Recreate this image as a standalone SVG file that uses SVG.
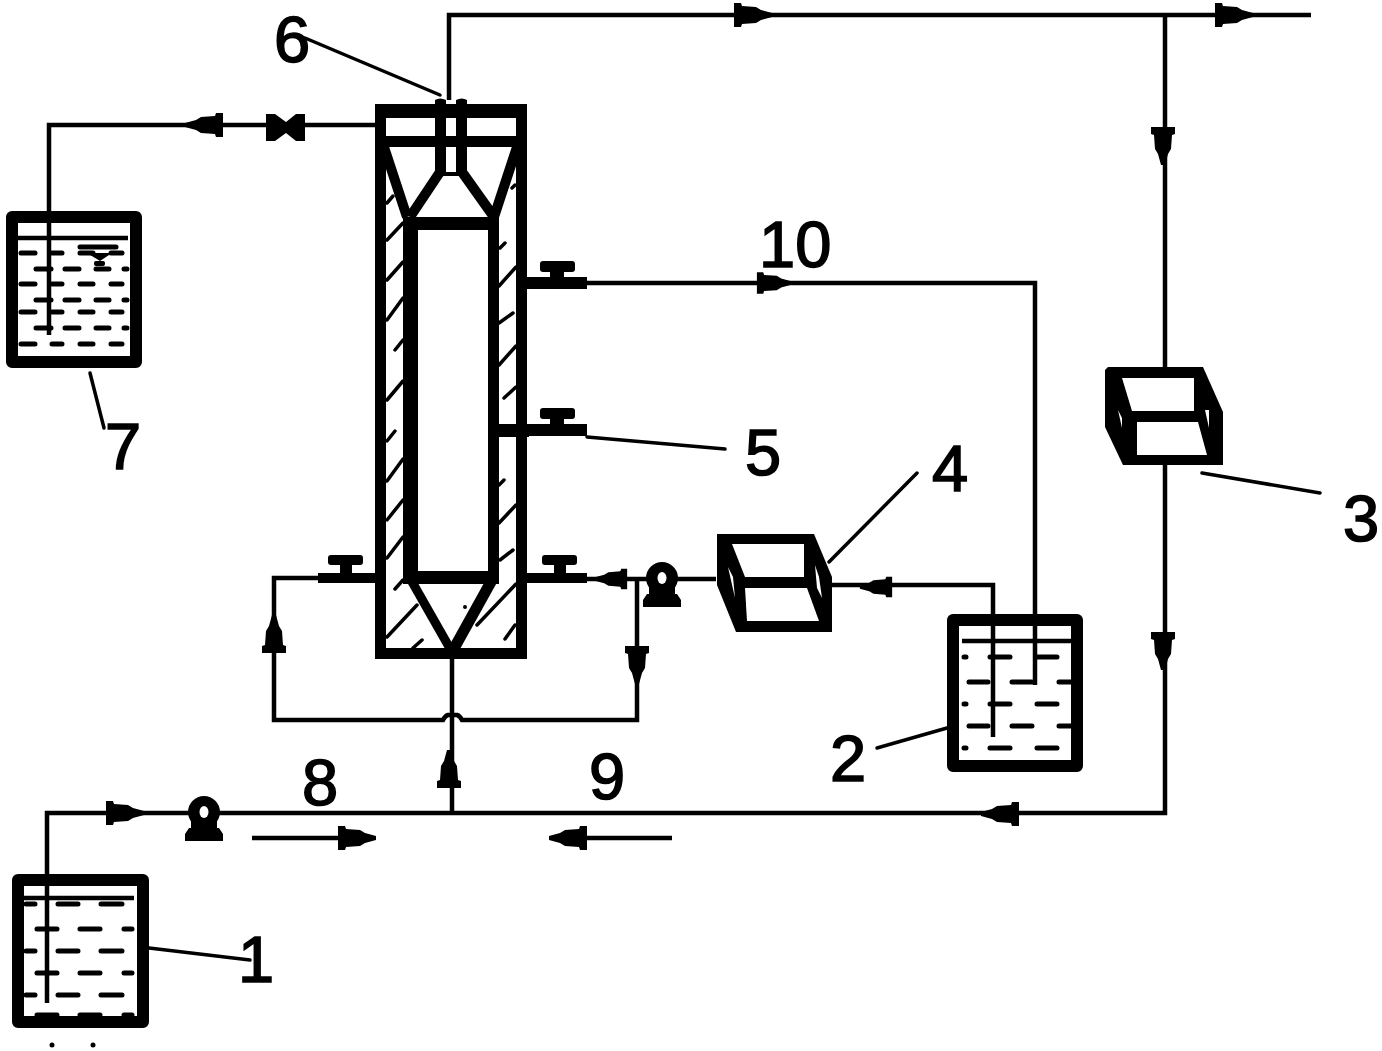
<svg xmlns="http://www.w3.org/2000/svg" width="1382" height="1051" viewBox="0 0 1382 1051">
<style>
.p{fill:none;stroke:#000;stroke-width:4.500}
.t{fill:none;stroke:#000;stroke-width:12;stroke-linejoin:round}
.c{fill:none;stroke:#000;stroke-width:11}
.f{fill:#000}
.w{fill:#fff}
.d{fill:none;stroke:#000;stroke-width:5;stroke-linecap:round}
.h{fill:none;stroke:#000;stroke-width:3.500;stroke-linecap:round}
.l{font-family:"Liberation Sans",Arial,sans-serif;font-size:65px;fill:#000;stroke:#000;stroke-width:1.600}
</style>
<defs>
<path id="a" d="M-19,-12L-12,-12L-11,-9L3,-8L8,-5L19,-2V2L8,5L3,8L-11,9L-12,12L-19,12Z"/>
<g id="pump"><circle cx="0" cy="0" r="16"/><rect x="-13" y="0" width="26" height="18"/><path d="M-15,16H15L19,22V29H-19V22Z"/><ellipse cx="0" cy="0" rx="4.500" ry="6" fill="#fff"/></g>
<g id="valve"><rect x="-30" y="-6" width="60" height="12"/><rect x="-7" y="-16" width="14" height="12"/><rect x="-17" y="-22" width="35" height="11" rx="3"/></g>
</defs>

<g id="connectors">
<path class="p" d="M449,100V15H1311"/>
<path class="p" d="M1165,15V813H47V1003"/>
<path class="p" d="M452,659V813"/>
<path class="p" d="M375,125H49V335"/>
<path class="p" d="M587,283H1035V685"/>
<path class="p" d="M587,579H716"/>
<path class="p" d="M832,585H993V737"/>
<path class="p" d="M318,578H274V720H443Q445,716 448,715H457Q460,716 462,720H637V579"/>
<path class="p" d="M252,838H345"/>
<path class="p" d="M580,838H672"/>
<use href="#a" transform="translate(753,15)"/>
<use href="#a" transform="translate(1234,15)"/>
<use href="#a" transform="translate(1163,146) rotate(90)"/>
<use href="#a" transform="translate(1163,651) rotate(90)"/>
<use href="#a" transform="translate(204,125) rotate(180)"/>
<use href="#a" transform="translate(774,283) scale(.9)"/>
<use href="#a" transform="translate(611,579) rotate(180) scale(.85)"/>
<use href="#a" transform="translate(876,587) rotate(180) scale(.85)"/>
<use href="#a" transform="translate(274,634) rotate(-90)"/>
<use href="#a" transform="translate(637,665) rotate(90)"/>
<use href="#a" transform="translate(449,769) rotate(-90)"/>
<use href="#a" transform="translate(1000,814) rotate(180)"/>
<use href="#a" transform="translate(125,813)"/>
<use href="#a" transform="translate(357,838)"/>
<use href="#a" transform="translate(568,838) rotate(180)"/>
</g>

<g id="leaders">
<path class="h" d="M305,38L440,95"/>
<path class="h" d="M90,373L104,428"/>
<path class="h" d="M149,948L250,960"/>
<path class="h" d="M947,728L877,748"/>
<path class="h" d="M1202,473L1320,493"/>
<path class="h" d="M829,562L917,473"/>
<path class="h" d="M587,437L725,449"/>
</g>

<g id="reactor">
<path class="f" fill-rule="evenodd" d="M375,104H527V659H375Z M386,118V648H516V118Z"/>
<rect class="f" x="380" y="136" width="142" height="11"/>
<path class="f" d="M435,100Q440,97 446,100V172H456V100Q462,97 467,100V176L460,176H442L435,176Z"/>
<path class="c" style="stroke-width:10" d="M384,147L407,217M440,172L410,217M462,172L494,217M517,147L494,217"/>
<path class="f" fill-rule="evenodd" d="M403,217H499V584H403Z M418,230V571H488V230Z"/>
<path class="c" style="stroke-width:9" d="M411,580L452,652"/>
<path class="c" d="M492,580L452,652"/>
<path class="h" d="M387,203L393,196M387,240L403,223M387,280L403,262M387,320L403,298M395,350L403,340M387,400L403,381M387,441L395,431M387,481L403,459M387,520L403,500M387,558L403,537M395,589L403,580M387,637L417,605M413,648L422,640"/>
<path class="h" d="M512,188L515,185M500,248L505,243M499,286L516,267M499,323L513,313M499,365L516,346M504,398L516,387M499,485L504,480M499,523L516,505M500,560L513,550M477,625L516,584M505,639L515,625"/>
<circle class="f" cx="465" cy="607" r="2"/>
</g>

<g id="valve-top"><path class="f" d="M266,114L275,114L286,122L296,114L305,114L305,141L296,141L286,133L275,141L266,141Z"/></g>
<use id="valve-10" href="#valve" transform="translate(557,283)"/>
<use id="valve-5" href="#valve" transform="translate(557,430)"/>
<rect class="f" x="499" y="424" width="30" height="13"/>
<g id="valve-left"><rect class="f" x="318" y="573" width="57" height="10"/><rect class="f" x="340" y="562" width="12" height="12"/><rect class="f" x="328" y="555" width="35" height="10" rx="3"/></g>
<g id="valve-right"><rect class="f" x="527" y="573" width="60" height="10"/><rect class="f" x="554" y="562" width="12" height="12"/><rect class="f" x="542" y="555" width="35" height="10" rx="3"/></g>
<use id="pump-1" href="#pump" transform="translate(204,812)"/>
<use id="pump-2" href="#pump" transform="translate(662,578)"/>

<g id="box-4">
<path class="f" d="M717,534H814L832,577V632H736L717,585Z"/>
<path class="w" d="M732,544H804V577H745Z"/>
<path class="w" d="M745,588H807L819,621H747Z"/>
<path class="w" d="M728,567L733,577L735,598Z"/>
<path class="w" d="M815,565L819,577L822,598L817,588Z"/>
</g>
<g id="box-3">
<path class="f" d="M1105,370L1108,367H1203L1223,412V465H1123L1105,427Z"/>
<path class="w" d="M1122,378H1194V411H1132Z"/>
<path class="w" d="M1137,422H1198L1207,455H1137Z"/>
<path class="w" d="M1118,410L1122,418V428Z"/>
<path class="w" d="M1205,410H1209V428Z"/>
</g>

<g id="tank-1">
<rect class="t" x="18" y="880" width="125" height="142"/>
<path class="p" d="M24,898H134"/>
<path class="d" d="M26,904H35M58,904H78M101,904H122M37,929H57M80,929H100M124,929H132M26,951H35M58,951H78M101,951H122M37,973H57M80,973H100M124,973H132M26,995H35M58,995H78M101,995H122M37,1015H57M80,1015H100M124,1015H132"/>
<circle class="f" cx="52" cy="1045" r="2.500"/><circle class="f" cx="93" cy="1045" r="2.500"/>
</g>

<g id="tank-7">
<rect class="t" x="12" y="217" width="124" height="145"/>
<path class="p" d="M17,238H128"/>
<path class="d" d="M21,253H35M52,253H62M80,253H93M111,253H122M36,269H51M65,269H79M96,269H109M124,269H127M21,284H35M52,284H62M80,284H93M111,284H122M36,300H51M65,300H79M96,300H109M124,300H127M21,312H35M52,312H62M80,312H93M111,312H122M36,328H51M65,328H79M96,328H109M124,328H127M21,344H35M52,344H62M80,344H93M111,344H122"/>
<path class="d" d="M80,247H116"/>
<path class="f" d="M87,253H112L100,261Z"/>
<rect class="f" x="94" y="261" width="11" height="5" rx="2"/>
</g>

<g id="tank-2">
<rect class="t" x="953" y="620" width="124" height="146"/>
<path class="p" d="M962,641H1072"/>
<path class="d" d="M964,657H966M990,657H1010M1037,657H1057M969,682H988M1012,682H1032M1059,682H1071M964,704H966M990,704H1010M1037,704H1057M969,726H988M1012,726H1032M1059,726H1071M964,748H966M990,748H1010M1037,748H1057"/>
</g>

<g id="labels">
<text class="l" x="274" y="62">6</text>
<text class="l" x="759" y="267">10</text>
<text class="l" x="745" y="475">5</text>
<text class="l" x="932" y="491">4</text>
<text class="l" x="1343" y="541">3</text>
<text class="l" x="105" y="469">7</text>
<text class="l" x="830" y="781">2</text>
<text class="l" x="302" y="805">8</text>
<text class="l" x="589" y="799">9</text>
<text class="l" x="238" y="982">1</text>
</g>
</svg>
